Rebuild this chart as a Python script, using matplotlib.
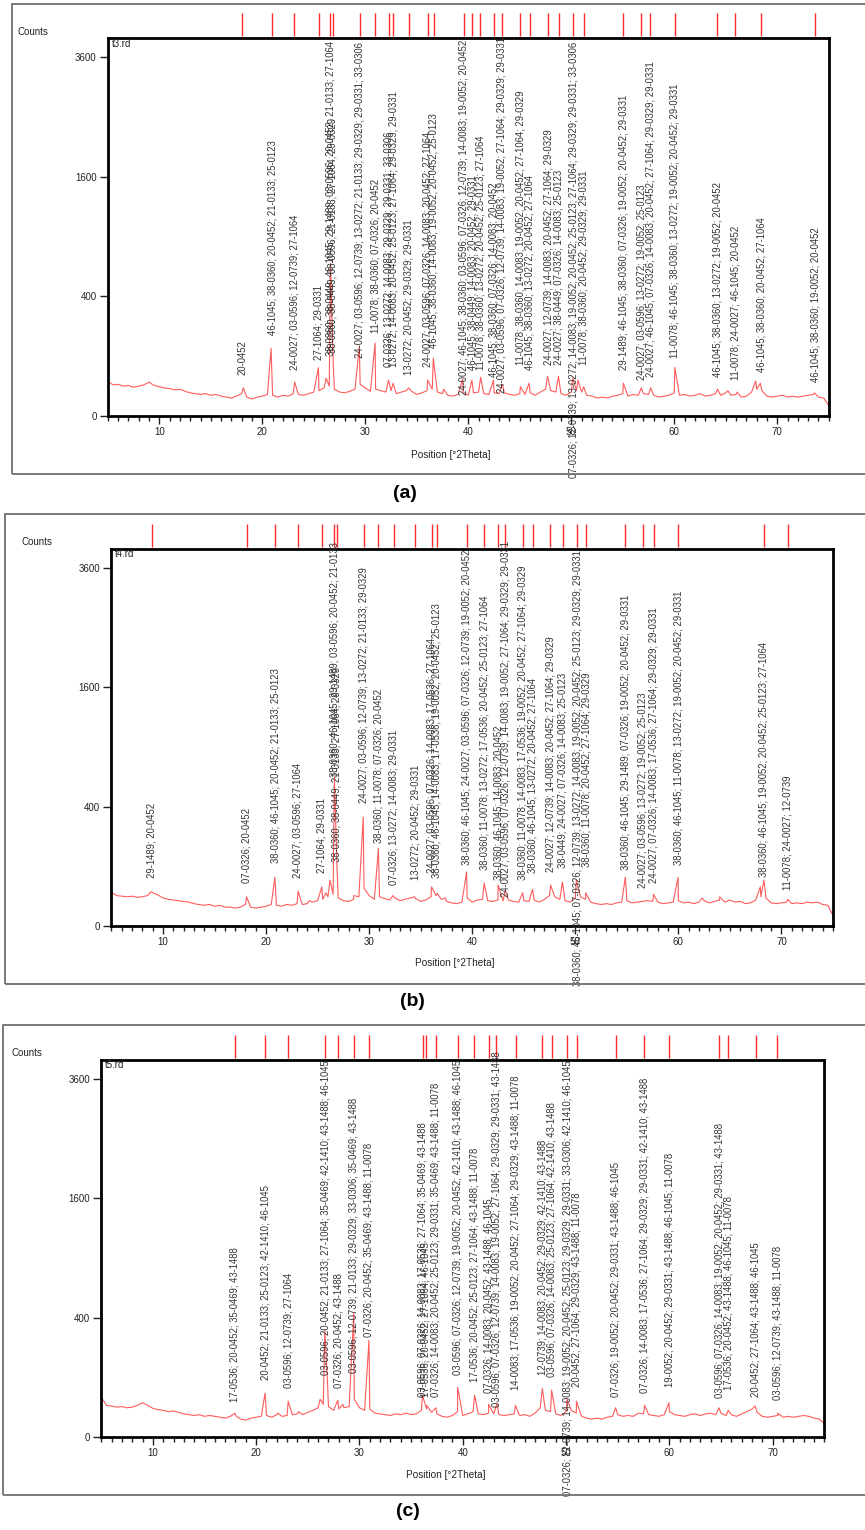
import numpy as np
import matplotlib
matplotlib.use("Agg")
import matplotlib.pyplot as plt
from matplotlib.patches import Rectangle
from matplotlib.ticker import MultipleLocator, NullLocator
import matplotlib.transforms as mtransforms

plt.rcParams['font.family'] = ['Liberation Sans', 'DejaVu Sans']

# ---------------------------------------------------------------- data
TWO_THETA_GRID = np.arange(5.0, 75.01, 0.5)   # 141 background samples, 5..75 deg

Y_TICKS = [0, 400, 1600, 3600]
X_MAJOR = [10, 20, 30, 40, 50, 60, 70]

# ---- sample t3
A_BASELINE = [
    34, 27, 28, 25, 26, 23, 25, 27, 32, 26,
    24, 22, 21, 19, 20, 17, 15, 14, 13, 14,
    12, 13, 11, 10, 9, 11, 14, 10, 8, 10,
    11, 13, 12, 10, 12, 11, 14, 13, 12, 14,
    16, 18, 22, 25, 20, 16, 15, 17, 20, 28,
    22, 17, 20, 18, 16, 18, 14, 16, 18, 17,
    13, 15, 18, 20, 16, 14, 12, 11, 13, 16,
    12, 15, 16, 14, 13, 15, 14, 15, 13, 12,
    14, 13, 15, 12, 16, 20, 18, 16, 14, 12,
    16, 18, 16, 12, 11, 9, 10, 9, 11, 12,
    14, 11, 13, 12, 14, 13, 12, 10, 11, 12,
    15, 12, 13, 11, 12, 14, 11, 12, 14, 12,
    15, 12, 13, 10, 11, 16, 20, 18, 11, 10,
    11, 12, 10, 11, 10, 11, 12, 13, 10, 9,
    3,
]
A_PEAK_POS = [18.15, 20.85, 23.15, 25.45, 26.2, 26.62, 26.9, 29.42, 30.95, 32.25,
              32.7, 34.2, 36.05, 36.6, 37.6, 39.45, 40.35, 41.2, 42.45, 43.3,
              45.05, 45.9, 47.7, 48.75, 50.15, 50.65, 51.2, 55.05, 56.8, 57.7,
              60.05, 64.2, 65.2, 66.1, 67.9, 68.35, 73.6]
A_PEAK_CNT = [22, 128, 32, 65, 40, 650, 64, 135, 148, 36,
              30, 22, 36, 93, 20, 38, 36, 42, 36, 28,
              24, 30, 44, 44, 40, 36, 24, 30, 22, 22,
              66, 20, 18, 16, 34, 30, 15]
A_STICKS = [18.06, 20.97, 23.11, 25.47, 26.60, 26.86, 29.45, 30.97, 32.27, 32.69,
            34.21, 36.05, 36.63, 39.55, 40.36, 41.17, 42.46, 43.27, 45.05, 45.95,
            47.74, 48.77, 50.17, 51.20, 55.02, 56.80, 57.67, 60.03, 64.15, 65.92,
            68.45, 73.69]
A_LABELS = [
    "20-0452",
    "46-1045; 38-0360; 20-0452; 21-0133; 25-0123",
    "24-0027; 03-0596; 12-0739; 27-1064",
    "27-1064; 29-0331",
    "38-0360; 38-0449; 46-1045; 29-1489; 03-0596; 20-0452; 21-0133; 27-1064",
    "38-0360; 38-0449; 03-0596; 21-0133; 27-1064; 29-0329",
    "24-0027; 03-0596; 12-0739; 13-0272; 21-0133; 29-0329; 29-0331; 33-0306",
    "11-0078; 38-0360; 07-0326; 20-0452",
    "07-0326; 13-0272; 14-0083; 29-0329; 29-0331; 33-0306",
    "13-0272; 14-0083; 20-0452; 25-0123; 27-1064; 29-0329; 29-0331",
    "13-0272; 20-0452; 29-0329; 29-0331",
    "24-0027; 03-0596; 07-0326; 14-0083; 20-0452; 27-1064",
    "46-1045; 38-0360; 14-0083; 19-0052; 20-0452; 25-0123",
    "24-0027; 46-1045; 38-0360; 03-0596; 07-0326; 12-0739; 14-0083; 19-0052; 20-0452",
    "46-1045; 38-0449; 14-0083; 20-0452; 29-0331",
    "11-0078; 38-0360; 13-0272; 20-0452; 25-0123; 27-1064",
    "46-1045; 38-0360; 07-0326; 14-0083; 20-0452",
    "24-0027; 03-0596; 07-0326; 12-0739; 14-0083; 19-0052; 27-1064; 29-0329; 29-0331",
    "11-0078; 38-0360; 14-0083; 19-0052; 20-0452; 27-1064; 29-0329",
    "46-1045; 38-0360; 13-0272; 20-0452; 27-1064",
    "24-0027; 12-0739; 14-0083; 20-0452; 27-1064; 29-0329",
    "24-0027; 38-0449; 07-0326; 14-0083; 25-0123",
    "07-0326; 12-0739; 13-0272; 14-0083; 19-0052; 20-0452; 25-0123; 27-1064; 29-0329; 29-0331; 33-0306",
    "11-0078; 38-0360; 20-0452; 29-0329; 29-0331",
    "29-1489; 46-1045; 38-0360; 07-0326; 19-0052; 20-0452; 29-0331",
    "24-0027; 03-0596; 13-0272; 19-0052; 25-0123",
    "24-0027; 46-1045; 07-0326; 14-0083; 20-0452; 27-1064; 29-0329; 29-0331",
    "11-0078; 46-1045; 38-0360; 13-0272; 19-0052; 20-0452; 29-0331",
    "46-1045; 38-0360; 13-0272; 19-0052; 20-0452",
    "11-0078; 24-0027; 46-1045; 20-0452",
    "46-1045; 38-0360; 20-0452; 27-1064",
    "46-1045; 38-0360; 19-0052; 20-0452",
]

# ---- sample t4
B_BASELINE = [
    32, 26, 25, 24, 25, 23, 24, 26, 31, 27,
    22, 20, 19, 18, 17, 16, 14, 13, 12, 13,
    11, 12, 10, 10, 9, 10, 13, 10, 9, 10,
    11, 13, 12, 11, 13, 12, 14, 13, 14, 16,
    18, 20, 24, 28, 22, 18, 17, 20, 24, 40,
    26, 20, 24, 21, 19, 22, 18, 20, 22, 21,
    17, 19, 24, 26, 20, 17, 15, 14, 16, 22,
    16, 19, 20, 18, 17, 19, 18, 19, 17, 16,
    18, 17, 19, 16, 20, 26, 24, 20, 18, 16,
    22, 24, 20, 16, 14, 13, 14, 13, 15, 16,
    18, 15, 16, 17, 18, 17, 16, 14, 15, 16,
    18, 15, 16, 14, 16, 18, 15, 17, 19, 16,
    19, 16, 17, 14, 15, 19, 24, 22, 15, 14,
    15, 16, 14, 15, 14, 16, 15, 16, 13, 12,
    3,
]
B_PEAK_POS = [8.85, 18.1, 20.85, 23.1, 24.2, 25.4, 25.8, 26.2, 26.63, 26.88,
              28.5, 29.42, 30.9, 32.3, 34.4, 36.05, 36.6, 37.4, 39.45, 41.15,
              42.5, 43.2, 44.9, 45.85, 47.6, 48.75, 50.1, 51.0, 54.85, 57.6,
              59.97, 62.3, 64.0, 67.95, 68.3, 70.6]
B_PEAK_CNT = [33, 24, 67, 34, 18, 43, 31, 59, 623, 94,
              26, 333, 170, 26, 24, 43, 30, 22, 82, 52,
              47, 36, 31, 38, 47, 54, 59, 31, 67, 28,
              67, 22, 24, 43, 59, 20]
B_STICKS = [8.90, 18.13, 20.87, 23.08, 25.41, 26.63, 26.86, 29.45, 30.90, 32.36,
            34.47, 36.09, 36.57, 39.49, 41.17, 42.50, 43.20, 44.88, 45.85, 47.57,
            48.77, 50.17, 51.07, 54.85, 56.53, 57.60, 59.97, 68.28, 70.61]
B_LABELS = [
    "29-1489; 20-0452",
    "07-0326; 20-0452",
    "38-0360; 46-1045; 20-0452; 21-0133; 25-0123",
    "24-0027; 03-0596; 27-1064",
    "27-1064; 29-0331",
    "38-0360; 46-1045; 29-1489; 03-0596; 20-0452; 21-0133",
    "38-0360; 38-0449; 21-0133; 27-1064; 29-0329",
    "24-0027; 03-0596; 12-0739; 13-0272; 21-0133; 29-0329",
    "38-0360; 11-0078; 07-0326; 20-0452",
    "07-0326; 13-0272; 14-0083; 29-0331",
    "13-0272; 20-0452; 29-0331",
    "24-0027; 03-0596; 07-0326; 14-0083; 17-0536; 27-1064",
    "38-0360; 46-1045; 14-0083; 17-0536; 19-0052; 20-0452; 25-0123",
    "38-0360; 46-1045; 24-0027; 03-0596; 07-0326; 12-0739; 19-0052; 20-0452",
    "38-0360; 11-0078; 13-0272; 17-0536; 20-0452; 25-0123; 27-1064",
    "38-0360; 46-1045; 14-0083; 20-0452",
    "24-0027; 03-0596; 07-0326; 12-0739; 14-0083; 19-0052; 27-1064; 29-0329; 29-0331",
    "38-0360; 11-0078; 14-0083; 17-0536; 19-0052; 20-0452; 27-1064; 29-0329",
    "38-0360; 46-1045; 13-0272; 20-0452; 27-1064",
    "24-0027; 12-0739; 14-0083; 20-0452; 27-1064; 29-0329",
    "38-0449; 24-0027; 07-0326; 14-0083; 25-0123",
    "38-0360; 46-1045; 07-0326; 12-0739; 13-0272; 14-0083; 19-0052; 20-0452; 25-0123; 29-0329; 29-0331",
    "38-0360; 11-0078; 20-0452; 27-1064; 29-0329",
    "38-0360; 46-1045; 29-1489; 07-0326; 19-0052; 20-0452; 29-0331",
    "24-0027; 03-0596; 13-0272; 19-0052; 25-0123",
    "24-0027; 07-0326; 14-0083; 17-0536; 27-1064; 29-0329; 29-0331",
    "38-0360; 46-1045; 11-0078; 13-0272; 19-0052; 20-0452; 29-0331",
    "38-0360; 46-1045; 19-0052; 20-0452; 25-0123; 27-1064",
    "11-0078; 24-0027; 12-0739",
]

# ---- sample t5
C_BASELINE = [
    45, 28, 27, 25, 26, 24, 25, 28, 33, 28,
    23, 21, 20, 18, 19, 17, 15, 14, 13, 14,
    12, 13, 12, 11, 10, 12, 13, 9, 8, 10,
    11, 12, 13, 11, 14, 12, 13, 14, 15, 14,
    17, 20, 24, 30, 26, 20, 22, 24, 26, 40,
    24, 20, 22, 16, 15, 14, 13, 15, 14, 16,
    14, 15, 20, 22, 17, 15, 12, 11, 13, 18,
    13, 15, 18, 15, 14, 16, 15, 14, 13, 14,
    15, 13, 14, 12, 16, 24, 20, 18, 15, 13,
    18, 20, 16, 12, 10, 9, 10, 9, 11, 12,
    14, 12, 13, 12, 16, 15, 14, 13, 12, 14,
    18, 14, 13, 12, 14, 15, 13, 15, 16, 14,
    16, 13, 14, 12, 15, 18, 22, 17, 12, 11,
    12, 13, 11, 12, 11, 12, 13, 12, 10, 9,
    5,
]
C_PEAK_POS = [17.95, 20.86, 22.1, 23.1, 24.1, 26.2, 26.65, 26.9, 27.9, 28.4,
              29.45, 30.92, 36.1, 36.5, 37.4, 39.5, 41.15, 42.5, 43.3, 45.1,
              47.7, 48.6, 50.1, 51.0, 54.8, 57.6, 59.97, 64.8, 65.7, 68.3, 70.5]
C_PEAK_CNT = [16, 54, 16, 36, 18, 40, 319, 90, 38, 30,
              429, 262, 49, 28, 24, 70, 49, 30, 31, 28,
              66, 62, 40, 36, 24, 28, 33, 24, 20, 27, 16]
C_STICKS = [17.95, 20.86, 23.11, 26.67, 27.95, 29.47, 30.92, 36.12, 36.41, 37.38,
            39.51, 41.12, 42.50, 43.22, 45.12, 47.70, 48.61, 50.12, 51.03, 54.81,
            57.57, 59.97, 64.81, 65.71, 68.36, 70.45]
C_LABELS = [
    "17-0536; 20-0452; 35-0469; 43-1488",
    "20-0452; 21-0133; 25-0123; 42-1410; 46-1045",
    "03-0596; 12-0739; 27-1064",
    "03-0596; 20-0452; 21-0133; 27-1064; 35-0469; 42-1410; 43-1488; 46-1045",
    "07-0326; 20-0452; 43-1488",
    "03-0596; 12-0739; 21-0133; 29-0329; 33-0306; 35-0469; 43-1488",
    "07-0326; 20-0452; 35-0469; 43-1488; 11-0078",
    "03-0596; 07-0326; 14-0083; 17-0536; 27-1064; 35-0469; 43-1488",
    "17-0536; 20-0452; 27-1064; 46-1045",
    "07-0326; 14-0083; 20-0452; 25-0123; 29-0331; 35-0469; 43-1488; 11-0078",
    "03-0596; 07-0326; 12-0739; 19-0052; 20-0452; 42-1410; 43-1488; 46-1045",
    "17-0536; 20-0452; 25-0123; 27-1064; 43-1488; 11-0078",
    "07-0326; 14-0083; 20-0452; 43-1488; 46-1045",
    "03-0596; 07-0326; 12-0739; 14-0083; 19-0052; 27-1064; 29-0329; 29-0331; 43-1488",
    "14-0083; 17-0536; 19-0052; 20-0452; 27-1064; 29-0329; 43-1488; 11-0078",
    "12-0739; 14-0083; 20-0452; 29-0329; 42-1410; 43-1488",
    "03-0596; 07-0326; 14-0083; 25-0123; 27-1064; 42-1410; 43-1488",
    "07-0326; 12-0739; 14-0083; 19-0052; 20-0452; 25-0123; 29-0329; 29-0331; 33-0306; 42-1410; 46-1045",
    "20-0452; 27-1064; 29-0329; 43-1488; 11-0078",
    "07-0326; 19-0052; 20-0452; 29-0331; 43-1488; 46-1045",
    "07-0326; 14-0083; 17-0536; 27-1064; 29-0329; 29-0331; 42-1410; 43-1488",
    "19-0052; 20-0452; 29-0331; 43-1488; 46-1045; 11-0078",
    "03-0596; 07-0326; 14-0083; 19-0052; 20-0452; 29-0331; 43-1488",
    "17-0536; 20-0452; 43-1488; 46-1045; 11-0078",
    "20-0452; 27-1064; 43-1488; 46-1045",
    "03-0596; 12-0739; 43-1488; 11-0078",
]

# ---------------------------------------------------------------- layout
# height (axes fraction) at which each peak annotation starts
A_LABEL_BASE = [0.108, 0.214, 0.122, 0.148, 0.159, 0.167, 0.153, 0.220, 0.130, 0.130,
                0.108, 0.130, 0.180, 0.056, 0.122, 0.122, 0.103, 0.061, 0.135, 0.122,
                0.135, 0.135, -0.164, 0.135, 0.122, 0.095, 0.103, 0.153, 0.103, 0.095,
                0.116, 0.090]
B_LABEL_BASE = [0.127, 0.114, 0.167, 0.127, 0.141, 0.395, 0.170, 0.326, 0.220, 0.109,
                0.122, 0.141, 0.127, 0.162, 0.149, 0.122, 0.077, 0.122, 0.141, 0.143,
                0.154, -0.159, 0.156, 0.149, 0.101, 0.114, 0.162, 0.130, 0.095]
C_LABEL_BASE = [0.093, 0.151, 0.130, 0.164, 0.130, 0.170, 0.265, 0.106, 0.106, 0.106,
                0.164, 0.146, 0.117, 0.080, 0.125, 0.164, 0.159, -0.156, 0.133, 0.106,
                0.117, 0.133, 0.103, 0.125, 0.106, 0.098]

W, H = 865, 1530
fig = plt.figure(figsize=(W / 100, H / 100), dpi=100)
fig.patch.set_facecolor('white')


def fx(px):
    return px / W


def fy(py):
    return 1 - py / H


def sqrt_fwd(v):
    v = np.asarray(v, dtype=float)
    return np.sign(v) * np.sqrt(np.abs(v))


def sqrt_inv(v):
    v = np.asarray(v, dtype=float)
    return np.sign(v) * v ** 2


def pattern(baseline, peak_pos, peak_cnt):
    x = np.concatenate([TWO_THETA_GRID, np.asarray(peak_pos, float)])
    y = np.concatenate([np.asarray(baseline, float), np.asarray(peak_cnt, float)])
    order = np.argsort(x, kind='stable')
    return x[order], y[order]


def draw_panel(frame, box, counts_xy, file_xy, xlabel_xy, tag_xy, tag, fname,
               baseline, peak_pos, peak_cnt, sticks, labels, bases):
    fl, ft, fb = frame
    fig.add_artist(Rectangle((fx(fl), fy(fb)), fx(W + 20) - fx(fl), (fb - ft) / H,
                             transform=fig.transFigure, fill=False,
                             edgecolor='#707070', lw=1.3))
    al, at, ar, ab = box
    ax = fig.add_axes([fx(al), fy(ab), (ar - al) / W, (ab - at) / H])
    ax.set_yscale('function', functions=(sqrt_fwd, sqrt_inv))
    ax.set_xlim(5, 75)
    ax.set_ylim(0, 3990)

    x, y = pattern(baseline, peak_pos, peak_cnt)
    ax.plot(x, y, color='#ff5c5c', lw=0.8, solid_joinstyle='round')

    for sp in ax.spines.values():
        sp.set_linewidth(2.0)
        sp.set_color('black')
    ax.set_yticks(Y_TICKS)
    ax.set_yticklabels([str(v) for v in Y_TICKS])
    ax.yaxis.set_minor_locator(NullLocator())
    ax.set_xticks(X_MAJOR)
    ax.set_xticklabels([str(v) for v in X_MAJOR])
    ax.xaxis.set_minor_locator(MultipleLocator(1))
    ax.tick_params(axis='both', which='major', direction='out', length=5.5,
                   width=1.0, labelsize=7, pad=2.5, colors='#222222')
    ax.tick_params(axis='x', which='minor', direction='out', length=3.5, width=1.0,
                   colors='#222222')

    trans = mtransforms.blended_transform_factory(ax.transData, ax.transAxes)
    stick_h = 25 / (ab - at)
    ax.vlines(sticks, 1.0 + 0.004, 1.0 + stick_h, transform=trans,
              colors='#ff2a2a', lw=1.0, clip_on=False)
    for s, lab, b in zip(sticks, labels, bases):
        ax.text(s, b, lab, transform=trans, rotation=90, ha='center', va='bottom',
                fontsize=6.85, color='#333333', clip_on=False)

    fig.text(fx(counts_xy[0]), fy(counts_xy[1]), 'Counts', ha='left', va='center',
             fontsize=7, color='#222222')
    fig.text(fx(file_xy[0]), fy(file_xy[1]), fname, ha='left', va='center',
             fontsize=7, color='#222222')
    fig.text(fx(xlabel_xy[0]), fy(xlabel_xy[1]), 'Position [\u00b02Theta]',
             ha='center', va='center', fontsize=7.2, color='#222222')
    fig.text(fx(tag_xy[0]), fy(tag_xy[1]), tag, ha='center', va='center',
             fontsize=14, fontweight='bold', color='black')


draw_panel((12, 4.5, 474), (107.8, 38, 828.8, 416), (17, 32), (111.5, 44), (451, 455),
           (405, 493), '(a)', 't3.rd',
           A_BASELINE, A_PEAK_POS, A_PEAK_CNT, A_STICKS, A_LABELS, A_LABEL_BASE)
draw_panel((5, 514, 984), (111.5, 549, 833, 926), (21, 542), (115, 554), (455, 963),
           (412, 1001), '(b)', 't4.rd',
           B_BASELINE, B_PEAK_POS, B_PEAK_CNT, B_STICKS, B_LABELS, B_LABEL_BASE)
draw_panel((2.5, 1025, 1495), (101.2, 1060, 824.3, 1437), (11, 1053), (105, 1065),
           (446, 1475), (408, 1512), '(c)', 't5.rd',
           C_BASELINE, C_PEAK_POS, C_PEAK_CNT, C_STICKS, C_LABELS, C_LABEL_BASE)

fig.savefig('out.png', dpi=100, facecolor='white')
